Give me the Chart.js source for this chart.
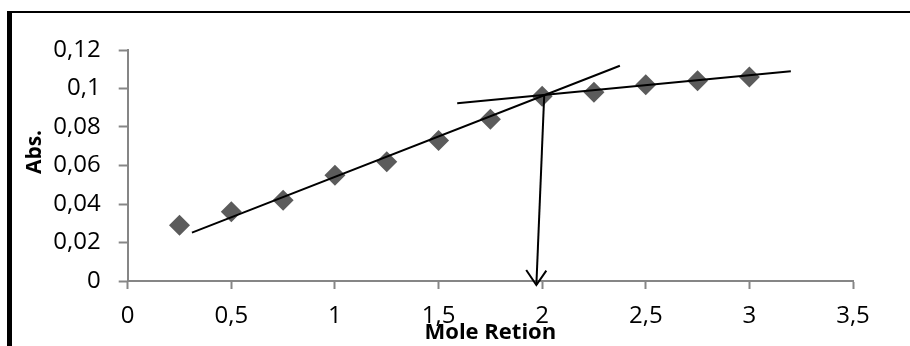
<!DOCTYPE html>
<html>
<head>
<meta charset="utf-8">
<script src="https://cdn.jsdelivr.net/npm/chart.js@4.4.1/dist/chart.umd.min.js"></script>
<style>
  html, body { margin: 0; padding: 0; background: #fff; }
  #wrap { position: relative; width: 910px; height: 346px; }
  #frame { position: absolute; left: 7px; top: 11px; right: 0; bottom: 0; border-left: 5px solid #000; border-top: 2px solid #000; pointer-events: none; }
</style>
</head>
<body>
<div id="wrap">
  <canvas id="chart"></canvas>
  <div id="frame"></div>
</div>
<script>
// measured points
const moleRatio = [0.25, 0.5, 0.75, 1, 1.25, 1.5, 1.75, 2, 2.25, 2.5, 2.75, 3];
const absorbance = [0.029, 0.036, 0.042, 0.055, 0.062, 0.073, 0.084, 0.096, 0.098, 0.102, 0.104, 0.106];

// hand-drawn tangent lines and the arrow down to the break point
const risingFitX = [0.31, 2.375];
const risingFitY = [0.0251, 0.1118];
const plateauFitX = [1.59, 3.2];
const plateauFitY = [0.0923, 0.1089];
const arrowX = [2.01, 1.972];
const arrowY = [0.0966, -0.0021];
const arrowHeadX = [1.923, 1.972, 2.02];
const arrowHeadY = [0.0057, -0.0021, 0.0054];

// axis ticks
const xTicks = [0, 0.5, 1, 1.5, 2, 2.5, 3, 3.5];
const yTicks = [0, 0.02, 0.04, 0.06, 0.08, 0.1, 0.12];

const xTitle = 'Mole Retion';
const yTitle = 'Abs.';

const pts = (xs, ys) => xs.map((x, i) => ({ x: x, y: ys[i] }));
const comma = v => String(Number(v.toFixed(2))).replace('.', ',');
const AXIS = '#868686';
const FONT = 'Open Sans';

const lineSet = (xs, ys) => ({
    type: 'line',
    data: pts(xs, ys),
    borderColor: '#000',
    borderWidth: 2,
    pointRadius: 0,
    fill: false,
    tension: 0,
    clip: false,
    order: 0
});

// axis titles placed by hand (Excel-like positions)
const axisTitles = {
    id: 'axisTitles',
    afterDraw(chart) {
        const { ctx, chartArea } = chart;
        ctx.save();
        ctx.fillStyle = '#000';
        ctx.textAlign = 'center';
        ctx.textBaseline = 'middle';
        ctx.font = 'bold 22px "' + FONT + '"';
        ctx.fillText(xTitle, (chartArea.left + chartArea.right) / 2, 333);
        ctx.translate(35, 152);
        ctx.rotate(-Math.PI / 2);
        ctx.font = 'bold 21px "' + FONT + '"';
        ctx.fillText(yTitle, 0, 0);
        ctx.restore();
    }
};

new Chart(document.getElementById('chart'), {
    type: 'scatter',
    data: {
        datasets: [
            {
                data: pts(moleRatio, absorbance),
                pointStyle: 'rectRot',
                pointRadius: 10.5,
                pointHoverRadius: 10.5,
                backgroundColor: '#5b5b5b',
                borderWidth: 0,
                order: 1
            },
            lineSet(risingFitX, risingFitY),
            lineSet(plateauFitX, plateauFitY),
            lineSet(arrowX, arrowY),
            lineSet(arrowHeadX, arrowHeadY)
        ]
    },
    options: {
        responsive: true,
        maintainAspectRatio: false,
        animation: false,
        layout: { padding: { top: 50, right: 57, left: 0, bottom: 0 } },
        plugins: {
            legend: { display: false },
            tooltip: { enabled: false }
        },
        scales: {
            x: {
                type: 'linear',
                min: 0,
                max: 3.5,
                afterBuildTicks: axis => { axis.ticks = xTicks.map(v => ({ value: v })); },
                afterFit: axis => { axis.height = 65; },
                border: { color: AXIS, width: 2 },
                grid: { drawOnChartArea: false, drawTicks: true, tickLength: 8, tickColor: AXIS, tickWidth: 2 },
                ticks: {
                    color: '#000',
                    padding: 13,
                    maxRotation: 0,
                    font: { family: FONT, size: 24 },
                    callback: v => comma(v)
                }
            },
            y: {
                min: 0,
                max: 0.12,
                afterBuildTicks: axis => { axis.ticks = yTicks.map(v => ({ value: v })); },
                afterFit: axis => { axis.width = 127.7; },
                border: { color: AXIS, width: 2 },
                grid: { drawOnChartArea: false, drawTicks: true, tickLength: 9, tickColor: AXIS, tickWidth: 2 },
                ticks: {
                    color: '#000',
                    padding: 18,
                    font: { family: FONT, size: 24 },
                    callback: v => comma(v)
                }
            }
        }
    },
    plugins: [axisTitles]
});
</script>
</body>
</html>
